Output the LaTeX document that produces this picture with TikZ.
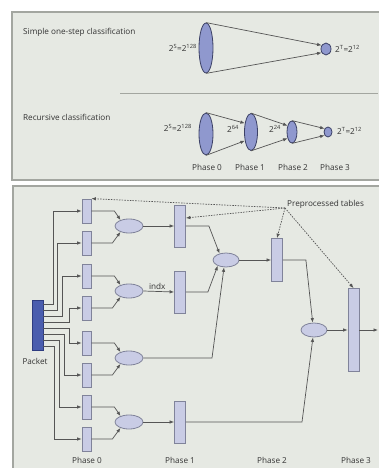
\documentclass[tikz,border=0pt]{standalone}
\usepackage{fontspec}
\setmainfont{Open Sans}
\usetikzlibrary{shapes.geometric,arrows.meta}
\definecolor{panelbg}{HTML}{E6E9E3}
\definecolor{panelbd}{HTML}{A3A6A0}
\definecolor{topfill}{HTML}{8F98CE}
\definecolor{topbd}{HTML}{3C4166}
\definecolor{boxfill}{HTML}{C9CCE5}
\definecolor{boxbd}{HTML}{80839A}
\definecolor{pktfill}{HTML}{4A5DAE}
\definecolor{pktbd}{HTML}{2E3C80}
\definecolor{linec}{HTML}{555555}
\definecolor{txt}{HTML}{333333}
\begin{document}
\begin{tikzpicture}[x=1bp,y=-1bp,
  panel/.style={fill=panelbg,draw=panelbd,line width=1.5bp},
  lbl/.style={font=\fontsize{8.2}{10}\selectfont,text=txt,inner sep=0pt},
  topell/.style={ellipse,fill=topfill,draw=topbd,line width=0.8bp,inner sep=0pt},
  pbox/.style={rectangle,fill=boxfill,draw=boxbd,line width=0.8bp,inner sep=0pt},
  pell/.style={ellipse,fill=boxfill,draw=boxbd,line width=0.8bp,inner sep=0pt,minimum width=28bp,minimum height=14bp},
  arr/.style={draw=linec,line width=0.7bp,-{Latex[length=4.5bp,width=3.5bp]}},
  darr/.style={draw=linec,line width=0.7bp,dashed,dash pattern=on 1.5bp off 1.2bp,-{Latex[length=4.5bp,width=3.5bp]}}
]
\useasboundingbox (0,0) rectangle (378,468);
% panels
\fill[white] (0,0) rectangle (378,468);
\draw[panel] (12,12) rectangle (384,180);
\draw[panel] (13,186) rectangle (384,472);
\draw[draw=panelbd,line width=1bp] (120,94) -- (378,94);

% ---- top panel: simple
\node[lbl,anchor=west] (ts) at (23,32) {Simple one-step classification};
\node[topell,minimum width=14bp,minimum height=50bp] (T0) at (206,48) {};
\node[topell,minimum width=10bp,minimum height=12bp] (T1) at (326,49) {};
\draw[arr] (T0.north) -- (T1.140);
\draw[arr] (T0.south) -- (T1.220);
\node[lbl,anchor=east] (tl0) at (197,48) {2\textsuperscript{S}=2\textsuperscript{128}};
\node[lbl,anchor=west] (tl1) at (335,49) {2\textsuperscript{T}=2\textsuperscript{12}};

% ---- top panel: recursive
\node[lbl,anchor=west] (tr) at (23,117) {Recursive classification};
\node[topell,minimum width=14bp,minimum height=42bp] (R0) at (206,134) {};
\node[topell,minimum width=13bp,minimum height=37bp] (R1) at (251,132) {};
\node[topell,minimum width=10bp,minimum height=22bp] (R2) at (292,132) {};
\node[topell,minimum width=8bp,minimum height=10bp] (R3) at (328,132) {};
\draw[arr] (R0.north) -- (R1.125);
\draw[arr] (R1.north) -- (R2.125);
\draw[arr] (R2.north) -- (R3.135);
\draw[arr] (R0.south) -- (R1.235);
\draw[arr] (R1.south) -- (R2.235);
\draw[arr] (R2.south) -- (R3.225);
\node[lbl,anchor=east] (rl0) at (192,128) {2\textsuperscript{S}=2\textsuperscript{128}};
\node[lbl] (rl1) at (233,129) {2\textsuperscript{64}};
\node[lbl] (rl2) at (275,129) {2\textsuperscript{24}};
\node[lbl,anchor=west] (rl3) at (337,131) {2\textsuperscript{T}=2\textsuperscript{12}};
\node[lbl] (ph0) at (207,167) {Phase 0};
\node[lbl] (ph1) at (250,167) {Phase 1};
\node[lbl] (ph2) at (293,167) {Phase 2};
\node[lbl] (ph3) at (335,167) {Phase 3};

% ---- bottom panel
\node[rectangle,fill=pktfill,draw=pktbd,line width=0.8bp,inner sep=0pt,minimum width=11bp,minimum height=50bp] (p) at (37.5,325) {};
\node[lbl] (pl) at (35,361) {Packet};

\foreach \i/\y in {1/211,2/243,3/276,4/308,5/343,6/375,7/407,8/439}
  \node[pbox,minimum width=9bp,minimum height=24bp] (a\i) at (86.5,\y) {};
\foreach \i/\y in {1/226,2/291,3/358,4/422}
  \node[pell] (b\i) at (129,\y) {};
\node[pbox,minimum width=11bp,minimum height=42bp] (c1) at (180,226) {};
\node[pbox,minimum width=11bp,minimum height=42bp] (c2) at (180,292) {};
\node[pbox,minimum width=11bp,minimum height=42bp] (c3) at (180,422) {};
\node[pell,minimum width=26bp] (d) at (226,260) {};
\node[pbox,minimum width=11bp,minimum height=43bp] (f) at (277,260) {};
\node[pell,minimum width=26bp] (g) at (314,330) {};
\node[pbox,minimum width=11bp,minimum height=83bp] (h) at (353.5,330) {};
\coordinate (out) at (378,330);

% packet to phase 0
\draw[arr] (p.east |- 0,304) -- (53,304) |- (a1.west);
\draw[arr] (p.east |- 0,310) -- (57,310) |- (a2.west);
\draw[arr] (p.east |- 0,316) -- (62,316) |- (a3.west);
\draw[arr] (p.east |- 0,322) -- (69,322) |- (a4.west);
\draw[arr] (p.east |- 0,328) -- (69,328) |- (a5.west);
\draw[arr] (p.east |- 0,334) -- (64,334) |- (a6.west);
\draw[arr] (p.east |- 0,340) -- (59,340) |- (a7.west);
\draw[arr] (p.east |- 0,346) -- (54,346) |- (a8.west);

% phase 0 rects to ellipses
\draw[arr] (a1.east) -- ++(23,0) -- (b1.145);
\draw[arr] (a2.east) -- ++(21,0) -- (b1.215);
\draw[arr] (a3.east) -- ++(23,0) -- (b2.145);
\draw[arr] (a4.east) -- ++(21,0) -- (b2.215);
\draw[arr] (a5.east) -- ++(23,0) -- (b3.145);
\draw[arr] (a6.east) -- ++(21,0) -- (b3.215);
\draw[arr] (a7.east) -- ++(23,0) -- (b4.145);
\draw[arr] (a8.east) -- ++(21,0) -- (b4.215);

% phase 0 ellipses to phase 1
\draw[arr] (b1.east) -- (c1.west);
\draw[arr] (b2.east) -- node[lbl,above=2bp,pos=0.45] (indx) {indx} (c2.west);
\draw[arr] (b4.east) -- (c3.west);
\draw[arr] (b3.east) -- (212,358) -- (d.255);
\draw[arr] (c1.east) -- ++(23,0) -- (d.135);
\draw[arr] (c2.east) -- ++(22,0) -- (d.215);

% phase 1 to phase 2 / 3
\draw[arr] (d.east) -- (f.west);
\draw[arr] (f.east) -- ++(23,0) -- (g.100);
\draw[arr] (c3.east) -- (302,422) -- (g.262);
\draw[arr] (g.east) -- (h.west);
\draw[arr] (h.east) -- (out);

% preprocessed tables
\coordinate (pp) at (285,208);
\node[lbl,anchor=west] (ppl) at (287,204) {Preprocessed tables};
\draw[darr] (pp) -- (a1.north east);
\draw[darr] (pp) -- ([yshift=8bp]c1.east);
\draw[darr] (pp) -- (f.north);
\draw[darr] (pp) -- (h.north);

% phase labels
\node[lbl] (q0) at (87,460) {Phase 0};
\node[lbl] (q1) at (180,460) {Phase 1};
\node[lbl] (q2) at (272,460) {Phase 2};
\node[lbl] (q3) at (356,460) {Phase 3};
\end{tikzpicture}
\end{document}
